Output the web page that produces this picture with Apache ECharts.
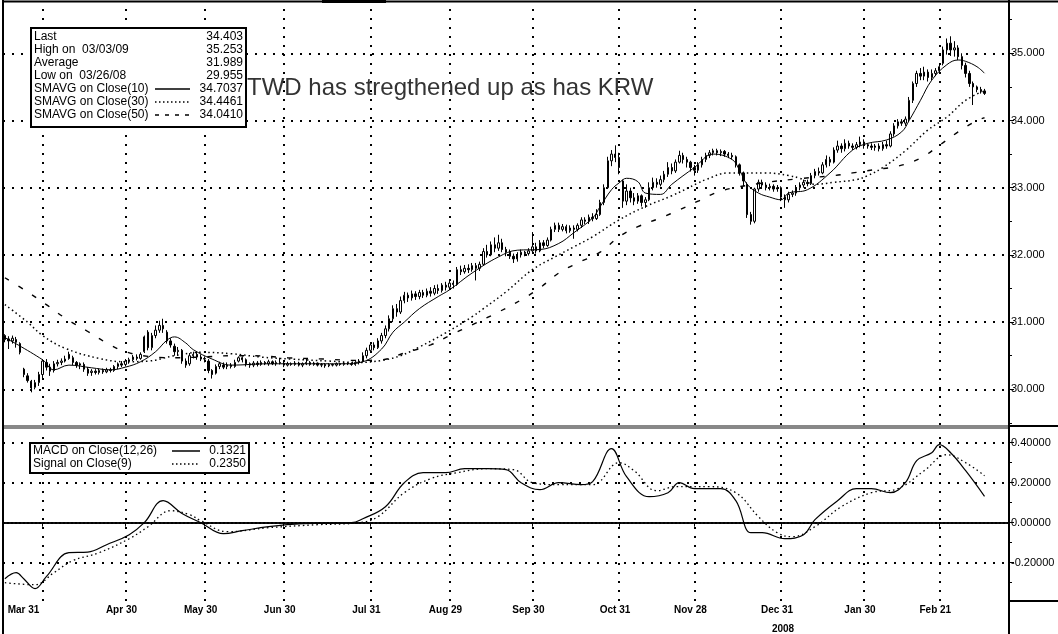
<!DOCTYPE html>
<html>
<head>
<meta charset="utf-8">
<script src="https://cdn.jsdelivr.net/npm/echarts@6/dist/echarts.min.js"></script>
<style>
  html, body { margin: 0; padding: 0; background: #fff; }
  #chart { width: 1058px; height: 634px; }
</style>
</head>
<body>
<div id="chart"></div>
<script>
// trading days shown on the x axis (weekdays, one market holiday left out)
const firstDay = '2008-03-17'
const dayCount = 267
const holidays = ['2008-05-26']

const tickDates = ['2008-03-31', '2008-04-30', '2008-05-30', '2008-06-30', '2008-07-31', '2008-08-29',
  '2008-09-30', '2008-10-31', '2008-11-28', '2008-12-31', '2009-01-30', '2009-02-27']
// label text as printed on the original chart
const tickLabels = ['Mar 31', 'Apr 30', 'May 30', 'Jun 30', 'Jul 31', 'Aug 29',
  'Sep 30', 'Oct 31', 'Nov 28', 'Dec 31', 'Jan 30', 'Feb 21']

const priceTicks = [30, 31, 32, 33, 34, 35]
const priceMinorTicks = [29.5, 30.5, 31.5, 32.5, 33.5, 34.5, 35.5]
const macdTicks = [-0.2, 0, 0.2, 0.4]
const macdMinorTicks = [-0.3, -0.1, 0.1, 0.3]

const statRows = [
  ['Last', '34.403'],
  ['High on  03/03/09', '35.253'],
  ['Average', '31.989'],
  ['Low on  03/26/08', '29.955'],
  ['SMAVG on Close(10)', '34.7037'],
  ['SMAVG on Close(30)', '34.4461'],
  ['SMAVG on Close(50)', '34.0410']
]
const macdRows = [
  ['MACD on Close(12,26)', '0.1321'],
  ['Signal on Close(9)', '0.2350']
]

// daily bars: [open, close, low, high]
const bars = [
  [30.80, 30.74, 30.70, 30.82], [30.75, 30.72, 30.60, 30.79], [30.72, 30.76, 30.68, 30.80], [30.74, 30.70, 30.62, 30.78],
  [30.68, 30.55, 30.52, 30.70], [30.30, 30.22, 30.18, 30.32], [30.20, 30.13, 30.10, 30.24], [30.12, 30.02, 29.955, 30.14],
  [30.03, 30.10, 30.00, 30.14], [30.10, 30.22, 30.05, 30.26], [30.22, 30.42, 30.15, 30.45], [30.40, 30.33, 30.28, 30.45],
  [30.33, 30.27, 30.20, 30.38], [30.28, 30.38, 30.25, 30.42], [30.38, 30.40, 30.34, 30.44], [30.40, 30.42, 30.36, 30.46],
  [30.42, 30.45, 30.40, 30.50], [30.52, 30.46, 30.44, 30.56], [30.47, 30.40, 30.36, 30.50], [30.40, 30.36, 30.32, 30.42],
  [30.36, 30.38, 30.30, 30.40], [30.37, 30.30, 30.26, 30.40], [30.30, 30.24, 30.20, 30.33], [30.25, 30.27, 30.20, 30.30],
  [30.27, 30.25, 30.22, 30.30], [30.25, 30.28, 30.22, 30.31], [30.28, 30.26, 30.23, 30.31], [30.26, 30.29, 30.24, 30.32],
  [30.29, 30.28, 30.25, 30.32], [30.28, 30.34, 30.26, 30.36], [30.34, 30.38, 30.30, 30.40], [30.38, 30.36, 30.33, 30.42],
  [30.37, 30.42, 30.34, 30.45], [30.42, 30.44, 30.38, 30.47], [30.44, 30.48, 30.42, 30.51], [30.48, 30.46, 30.43, 30.52],
  [30.46, 30.52, 30.44, 30.55], [30.56, 30.78, 30.54, 30.80], [30.85, 30.62, 30.58, 30.88], [30.62, 30.80, 30.58, 30.84],
  [30.80, 30.88, 30.76, 30.95], [30.88, 30.95, 30.84, 31.02], [30.95, 30.90, 30.84, 31.05], [30.85, 30.72, 30.68, 30.88],
  [30.72, 30.66, 30.62, 30.76], [30.64, 30.56, 30.50, 30.68], [30.56, 30.58, 30.50, 30.63], [30.58, 30.42, 30.38, 30.60],
  [30.42, 30.36, 30.32, 30.46], [30.38, 30.50, 30.35, 30.54], [30.50, 30.52, 30.46, 30.56], [30.52, 30.48, 30.44, 30.56],
  [30.48, 30.45, 30.42, 30.52], [30.45, 30.46, 30.40, 30.49], [30.42, 30.28, 30.24, 30.45], [30.28, 30.22, 30.16, 30.30],
  [30.24, 30.34, 30.22, 30.37], [30.34, 30.38, 30.30, 30.41], [30.36, 30.33, 30.30, 30.40], [30.34, 30.36, 30.30, 30.40],
  [30.36, 30.34, 30.31, 30.39], [30.34, 30.40, 30.32, 30.44], [30.42, 30.47, 30.40, 30.49], [30.47, 30.44, 30.40, 30.49],
  [30.44, 30.38, 30.34, 30.46], [30.38, 30.36, 30.32, 30.40], [30.36, 30.39, 30.33, 30.42], [30.39, 30.37, 30.34, 30.42],
  [30.37, 30.40, 30.35, 30.43], [30.40, 30.38, 30.36, 30.42], [30.38, 30.41, 30.35, 30.44], [30.41, 30.38, 30.36, 30.43],
  [30.38, 30.40, 30.35, 30.43], [30.40, 30.39, 30.37, 30.47], [30.39, 30.36, 30.33, 30.42], [30.36, 30.38, 30.34, 30.41],
  [30.38, 30.37, 30.35, 30.40], [30.37, 30.39, 30.35, 30.42], [30.39, 30.36, 30.34, 30.41], [30.36, 30.38, 30.33, 30.40],
  [30.38, 30.40, 30.36, 30.46], [30.40, 30.37, 30.35, 30.42], [30.37, 30.39, 30.35, 30.41], [30.39, 30.36, 30.34, 30.40],
  [30.36, 30.37, 30.33, 30.39], [30.37, 30.35, 30.32, 30.39], [30.35, 30.37, 30.33, 30.39], [30.37, 30.36, 30.34, 30.38],
  [30.36, 30.38, 30.34, 30.40], [30.38, 30.37, 30.35, 30.39], [30.37, 30.39, 30.35, 30.41], [30.39, 30.38, 30.36, 30.40],
  [30.38, 30.37, 30.35, 30.40], [30.37, 30.40, 30.35, 30.42], [30.40, 30.42, 30.37, 30.45], [30.42, 30.50, 30.40, 30.55],
  [30.50, 30.58, 30.46, 30.62], [30.58, 30.66, 30.55, 30.70], [30.66, 30.62, 30.58, 30.70], [30.62, 30.72, 30.60, 30.76],
  [30.72, 30.80, 30.68, 30.84], [30.80, 30.90, 30.76, 30.95], [30.90, 31.05, 30.86, 31.10], [31.05, 31.20, 31.00, 31.25],
  [31.20, 31.15, 31.08, 31.27], [31.15, 31.32, 31.12, 31.38], [31.32, 31.40, 31.28, 31.45], [31.40, 31.36, 31.30, 31.44],
  [31.36, 31.42, 31.32, 31.47], [31.42, 31.38, 31.33, 31.46], [31.38, 31.44, 31.34, 31.48], [31.44, 31.40, 31.36, 31.48],
  [31.40, 31.46, 31.37, 31.50], [31.46, 31.43, 31.38, 31.52], [31.43, 31.50, 31.40, 31.55], [31.50, 31.47, 31.42, 31.56],
  [31.47, 31.55, 31.44, 31.58], [31.55, 31.52, 31.47, 31.60], [31.52, 31.58, 31.48, 31.62], [31.58, 31.56, 31.50, 31.62],
  [31.56, 31.78, 31.54, 31.82], [31.78, 31.75, 31.70, 31.84], [31.75, 31.80, 31.72, 31.85], [31.80, 31.78, 31.73, 31.86],
  [31.78, 31.84, 31.75, 31.88], [31.84, 31.80, 31.62, 31.88], [31.80, 31.86, 31.76, 31.90], [31.86, 32.05, 31.84, 32.10],
  [32.05, 32.00, 31.96, 32.15], [32.00, 32.15, 31.98, 32.20], [32.15, 32.10, 32.04, 32.26], [32.10, 32.18, 32.06, 32.30],
  [32.18, 32.08, 32.04, 32.24], [32.08, 32.04, 31.98, 32.12], [32.04, 31.98, 31.94, 32.08], [31.98, 31.94, 31.88, 32.02],
  [31.94, 32.00, 31.90, 32.04], [32.00, 32.04, 31.96, 32.08], [32.04, 32.02, 31.98, 32.06], [32.02, 32.06, 31.99, 32.10],
  [32.06, 32.12, 32.02, 32.34], [32.12, 32.06, 32.02, 32.18], [32.06, 32.18, 32.04, 32.22], [32.18, 32.14, 32.10, 32.22],
  [32.14, 32.22, 32.12, 32.26], [32.22, 32.38, 32.20, 32.42], [32.38, 32.44, 32.34, 32.48], [32.44, 32.38, 32.34, 32.48],
  [32.38, 32.42, 32.35, 32.46], [32.42, 32.36, 32.32, 32.45], [32.36, 32.40, 32.33, 32.44], [32.40, 32.38, 32.24, 32.44],
  [32.38, 32.44, 32.35, 32.47], [32.44, 32.52, 32.40, 32.56], [32.52, 32.50, 32.46, 32.56], [32.50, 32.56, 32.46, 32.60],
  [32.56, 32.54, 32.50, 32.62], [32.54, 32.60, 32.52, 32.68], [32.60, 32.78, 32.58, 32.82], [32.78, 33.00, 32.74, 33.05],
  [33.00, 33.40, 32.98, 33.46], [33.40, 33.50, 33.32, 33.56], [33.50, 33.45, 33.38, 33.63], [33.45, 33.30, 33.20, 33.52],
  [33.10, 32.80, 32.70, 33.12], [32.80, 32.95, 32.74, 33.05], [32.95, 32.85, 32.78, 33.00], [32.85, 32.80, 32.74, 32.92],
  [32.80, 32.88, 32.76, 32.92], [32.88, 32.78, 32.72, 32.90], [32.78, 32.82, 32.70, 32.86], [32.82, 33.00, 32.80, 33.08],
  [33.00, 33.08, 32.96, 33.15], [33.08, 33.05, 33.00, 33.14], [33.05, 33.12, 33.02, 33.18], [33.12, 33.20, 33.08, 33.25],
  [33.20, 33.30, 33.16, 33.38], [33.30, 33.25, 33.20, 33.36], [33.25, 33.38, 33.22, 33.42], [33.38, 33.48, 33.36, 33.55],
  [33.48, 33.42, 33.36, 33.52], [33.42, 33.38, 33.30, 33.46], [33.38, 33.30, 33.24, 33.40], [33.30, 33.26, 33.18, 33.34],
  [33.26, 33.34, 33.22, 33.38], [33.34, 33.42, 33.30, 33.46], [33.42, 33.48, 33.38, 33.52], [33.48, 33.52, 33.44, 33.56],
  [33.52, 33.55, 33.48, 33.58], [33.55, 33.52, 33.48, 33.58], [33.52, 33.54, 33.47, 33.57], [33.54, 33.50, 33.46, 33.56],
  [33.50, 33.48, 33.44, 33.53], [33.48, 33.46, 33.42, 33.52], [33.46, 33.34, 33.30, 33.48], [33.34, 33.22, 33.18, 33.36],
  [33.22, 33.10, 33.02, 33.24], [33.05, 32.60, 32.55, 33.08], [32.60, 32.50, 32.45, 32.64], [32.50, 32.98, 32.47, 33.00],
  [32.98, 33.08, 32.94, 33.12], [33.08, 33.04, 32.98, 33.12], [33.04, 33.00, 32.96, 33.08], [33.00, 33.02, 32.96, 33.06],
  [33.02, 32.98, 32.94, 33.05], [32.98, 33.00, 32.94, 33.04], [33.00, 32.86, 32.80, 33.02], [32.86, 32.82, 32.70, 32.90],
  [32.82, 32.90, 32.78, 32.94], [32.90, 32.92, 32.86, 32.96], [32.92, 33.00, 32.88, 33.04], [33.00, 33.04, 32.96, 33.08],
  [33.04, 33.08, 33.00, 33.12], [33.08, 33.06, 33.02, 33.12], [33.06, 33.18, 33.04, 33.22], [33.18, 33.24, 33.14, 33.28],
  [33.24, 33.22, 33.18, 33.30], [33.22, 33.34, 33.20, 33.38], [33.34, 33.42, 33.30, 33.48], [33.42, 33.38, 33.32, 33.46],
  [33.38, 33.56, 33.36, 33.60], [33.56, 33.62, 33.52, 33.70], [33.62, 33.58, 33.52, 33.66], [33.58, 33.66, 33.54, 33.72],
  [33.66, 33.62, 33.58, 33.70], [33.62, 33.60, 33.56, 33.66], [33.60, 33.64, 33.57, 33.68], [33.64, 33.68, 33.60, 33.76],
  [33.68, 33.64, 33.58, 33.72], [33.64, 33.62, 33.58, 33.66], [33.62, 33.60, 33.56, 33.66], [33.60, 33.62, 33.55, 33.65],
  [33.62, 33.58, 33.54, 33.66], [33.58, 33.64, 33.55, 33.68], [33.64, 33.62, 33.58, 33.70], [33.62, 33.80, 33.60, 33.84],
  [33.80, 33.92, 33.76, 33.96], [33.92, 33.98, 33.88, 34.02], [33.98, 33.96, 33.92, 34.02], [33.96, 34.02, 33.92, 34.06],
  [34.02, 34.30, 33.98, 34.35], [34.30, 34.55, 34.26, 34.58], [34.55, 34.70, 34.50, 34.74], [34.70, 34.66, 34.60, 34.78],
  [34.66, 34.72, 34.60, 34.80], [34.72, 34.64, 34.58, 34.76], [34.64, 34.70, 34.60, 34.76], [34.70, 34.74, 34.66, 34.78],
  [34.74, 34.80, 34.70, 34.85], [34.85, 35.05, 34.82, 35.10], [35.05, 35.15, 34.98, 35.22], [35.15, 35.05, 34.96, 35.253],
  [35.05, 35.08, 34.95, 35.18], [35.08, 34.95, 34.90, 35.12], [34.95, 34.82, 34.76, 35.00], [34.82, 34.70, 34.64, 34.86],
  [34.70, 34.55, 34.50, 34.74], [34.55, 34.50, 34.23, 34.58], [34.50, 34.46, 34.42, 34.52], [34.46, 34.44, 34.40, 34.50],
  [34.44, 34.403, 34.38, 34.47]
]

// moving averages and MACD: [day index, value]
const ma10 = [[0, 30.77], [10, 30.44], [13, 30.29], [17, 30.36], [23, 30.32], [28, 30.29], [32, 30.33], [36, 30.41],
  [40, 30.56], [43, 30.73], [45, 30.78], [48, 30.69], [50, 30.59], [55, 30.45], [60, 30.36], [70, 30.38], [80, 30.38],
  [90, 30.38], [95, 30.41], [100, 30.6], [103, 30.85], [106, 31.0], [110, 31.2], [115, 31.38], [118, 31.48],
  [124, 31.73], [131, 31.97], [136, 32.07], [142, 32.08], [147, 32.17], [151, 32.33], [156, 32.55], [158, 32.72],
  [161, 32.97], [163, 33.07], [165, 33.14], [168, 33.09], [170, 32.92], [174, 32.9], [177, 33.05], [183, 33.3],
  [188, 33.5], [193, 33.42], [195, 33.26], [197, 33.05], [200, 32.92], [203, 32.86], [206, 32.82], [208, 32.92],
  [213, 32.97], [219, 33.22], [225, 33.56], [229, 33.66], [234, 33.71], [238, 33.83], [240, 34.0], [243, 34.3],
  [246, 34.6], [250, 34.83], [253, 34.9], [255, 34.88], [258, 34.8], [260, 34.7037]]
const ma30 = [[0, 31.26], [6, 31.0], [10, 30.8], [16, 30.61], [25, 30.46], [32, 30.41], [38, 30.42], [45, 30.5],
  [52, 30.55], [60, 30.53], [68, 30.48], [76, 30.45], [86, 30.42], [94, 30.4], [100, 30.43], [105, 30.5],
  [110, 30.63], [117, 30.84], [124, 31.08], [127, 31.2], [133, 31.45], [140, 31.78], [146, 31.97], [151, 32.12],
  [156, 32.27], [163, 32.52], [170, 32.72], [177, 32.88], [184, 33.07], [186, 33.12], [192, 33.22], [202, 33.22],
  [208, 33.18], [211, 33.14], [215, 33.05], [220, 33.08], [226, 33.12], [229, 33.18], [233, 33.3], [239, 33.55],
  [245, 33.86], [250, 34.05], [255, 34.3], [260, 34.4461]]
const ma50 = [[0, 31.66], [6, 31.45], [11, 31.26], [16, 31.06], [22, 30.86], [27, 30.69], [32, 30.56], [38, 30.49],
  [45, 30.47], [52, 30.48], [60, 30.5], [66, 30.5], [75, 30.47], [85, 30.45], [93, 30.43], [100, 30.44],
  [106, 30.54], [113, 30.66], [118, 30.8], [124, 30.96], [131, 31.15], [137, 31.33], [142, 31.51], [147, 31.73],
  [152, 31.88], [158, 32.04], [163, 32.27], [168, 32.42], [174, 32.55], [179, 32.67], [184, 32.8], [190, 32.95],
  [200, 33.06], [210, 33.13], [220, 33.18], [225, 33.22], [231, 33.27], [237, 33.32], [243, 33.44], [248, 33.63],
  [253, 33.83], [258, 34.0], [260, 34.041]]
const macd = [[0, -0.28], [3, -0.25], [5, -0.28], [8, -0.33], [11, -0.27], [17, -0.15], [22, -0.147], [27, -0.11],
  [33, -0.06], [37, 0.0], [42, 0.11], [47, 0.046], [52, 0.0], [58, -0.055], [63, -0.04], [70, -0.02], [79, -0.005],
  [92, 0.0], [95, 0.02], [101, 0.08], [106, 0.2], [111, 0.25], [117, 0.25], [122, 0.27], [128, 0.27], [133, 0.265],
  [137, 0.2], [142, 0.165], [147, 0.2], [153, 0.19], [156, 0.205], [161, 0.37], [165, 0.23], [171, 0.13],
  [176, 0.15], [179, 0.2], [183, 0.17], [190, 0.17], [194, 0.11], [198, -0.05], [201, -0.05], [207, -0.08],
  [212, -0.06], [215, 0.015], [221, 0.11], [226, 0.17], [230, 0.17], [235, 0.15], [239, 0.2], [242, 0.31],
  [246, 0.35], [248, 0.39], [251, 0.35], [255, 0.26], [260, 0.1321]]
const signal = [[0, -0.3], [8, -0.31], [13, -0.25], [18, -0.19], [25, -0.15], [33, -0.08], [38, -0.02], [44, 0.06],
  [49, 0.04], [52, 0.01], [59, -0.045], [70, -0.025], [83, -0.01], [94, 0.0], [99, 0.03], [106, 0.15], [113, 0.22],
  [120, 0.25], [128, 0.27], [135, 0.265], [140, 0.2], [147, 0.19], [156, 0.19], [163, 0.3], [167, 0.26],
  [173, 0.16], [178, 0.18], [187, 0.18], [194, 0.15], [200, 0.03], [205, -0.05], [209, -0.07], [215, -0.02],
  [222, 0.08], [230, 0.15], [237, 0.17], [244, 0.26], [250, 0.34], [255, 0.3], [260, 0.235]]

const dates = []
for (let d = new Date(firstDay + 'T00:00:00Z'); dates.length < dayCount; d.setUTCDate(d.getUTCDate() + 1)) {
  const wd = d.getUTCDay()
  const s = d.toISOString().slice(0, 10)
  if (wd !== 0 && wd !== 6 && !holidays.includes(s)) dates.push(s)
}

const sans = "'Liberation Sans', Arial, sans-serif"
const isTick = (idx, value) => tickDates.includes(value)
const gridDots = { color: '#000', type: [2, 7], width: 2 }

const vLines = tickDates.map((d) => ({ xAxis: d }))
const hLines = priceTicks.map((v) => ({ yAxis: v }))
const macdLines = macdTicks.filter((v) => v !== 0).map((v) => ({ yAxis: v }))

const chart = echarts.init(document.getElementById('chart'))

// legend boxes and decorations
const graphics = []
graphics.push({ type: 'rect', z: 50, shape: { x: 31, y: 28, width: 215, height: 99 },
  style: { fill: '#fff', stroke: '#000', lineWidth: 2 } })
statRows.forEach((r, k) => {
  const y = 37 + k * 13
  graphics.push({ type: 'text', z: 51, x: 34, y: y,
    style: { text: r[0], font: '12px ' + sans, fill: '#000', verticalAlign: 'middle' } })
  graphics.push({ type: 'text', z: 51, x: 243, y: y,
    style: { text: r[1], font: '12px ' + sans, fill: '#000', align: 'right', verticalAlign: 'middle' } })
})
const sampleDash = ['solid', [1.5, 2.5], [4, 6]]
sampleDash.forEach((t, k) => {
  graphics.push({ type: 'line', z: 51, shape: { x1: 155, y1: 89 + k * 13, x2: 190, y2: 89 + k * 13 },
    style: { stroke: '#000', lineWidth: k === 0 ? 1.5 : 1.3, lineDash: t === 'solid' ? null : t } })
})
graphics.push({ type: 'rect', z: 50, shape: { x: 30, y: 443, width: 219, height: 30 },
  style: { fill: '#fff', stroke: '#000', lineWidth: 2 } })
macdRows.forEach((r, k) => {
  const y = 451 + k * 13
  graphics.push({ type: 'text', z: 51, x: 33, y: y,
    style: { text: r[0], font: '12px ' + sans, fill: '#000', verticalAlign: 'middle' } })
  graphics.push({ type: 'text', z: 51, x: 246, y: y,
    style: { text: r[1], font: '12px ' + sans, fill: '#000', align: 'right', verticalAlign: 'middle' } })
  graphics.push({ type: 'line', z: 51, shape: { x1: 172, y1: y, x2: 200, y2: y },
    style: { stroke: '#000', lineWidth: k === 0 ? 1.5 : 1.3, lineDash: k === 0 ? null : [1.5, 2.5] } })
})
graphics.push({ type: 'text', z: 40, x: 247, y: 88,
  style: { text: 'TWD has stregthened up as has KRW', font: '24px ' + sans, fill: '#333', verticalAlign: 'middle' } })
// frame pieces
graphics.push({ type: 'rect', z: 30, shape: { x: 3, y: 425, width: 1006, height: 4 }, style: { fill: '#888' } })
graphics.push({ type: 'rect', z: 30, shape: { x: 322, y: 0, width: 64, height: 3 }, style: { fill: '#000' } })
graphics.push({ type: 'line', z: 30, shape: { x1: 3, y1: 1.5, x2: 1058, y2: 1.5 }, style: { stroke: '#000', lineWidth: 2 } })
graphics.push({ type: 'line', z: 30, shape: { x1: 3, y1: 0, x2: 3, y2: 634 }, style: { stroke: '#000', lineWidth: 2 } })
graphics.push({ type: 'line', z: 30, shape: { x1: 1009, y1: 0, x2: 1009, y2: 634 }, style: { stroke: '#000', lineWidth: 2 } })
graphics.push({ type: 'line', z: 30, shape: { x1: 1009, y1: 426, x2: 1058, y2: 426 }, style: { stroke: '#000', lineWidth: 2 } })
graphics.push({ type: 'line', z: 30, shape: { x1: 1009, y1: 601, x2: 1058, y2: 601 }, style: { stroke: '#000', lineWidth: 2 } })
graphics.push({ type: 'text', z: 30, x: 783, y: 629,
  style: { text: '2008', font: 'bold 10px ' + sans, fill: '#000', align: 'center', verticalAlign: 'middle' } })

chart.setOption({
  animation: false,
  backgroundColor: '#fff',
  grid: [
    { left: 3, top: 2, width: 1006, height: 423 },
    { left: 3, top: 430, width: 1006, height: 171 }
  ],
  xAxis: [
    {
      type: 'category', gridIndex: 0, data: dates, boundaryGap: true,
      axisLine: { show: false }, axisTick: { show: false }, axisLabel: { show: false }, splitLine: { show: false }
    },
    {
      type: 'category', gridIndex: 1, data: dates, boundaryGap: true,
      axisLine: { show: true, lineStyle: { color: '#000', width: 2, type: [2, 2] } },
      axisTick: { show: true, alignWithLabel: true, interval: isTick, length: 4, lineStyle: { color: '#000' } },
      axisLabel: {
        interval: isTick, margin: 4, color: '#000', fontSize: 10, fontWeight: 'bold', fontFamily: sans,
        padding: [0, 8, 0, 0],
        // the first month label sits well left of its tick in the original
        formatter: (v) => (v === tickDates[0] ? '{first|' : '{d|') + tickLabels[tickDates.indexOf(v)] + '}',
        rich: {
          first: { fontSize: 10, fontWeight: 'bold', fontFamily: sans, color: '#000', padding: [0, 30, 0, 0] },
          d: { fontSize: 10, fontWeight: 'bold', fontFamily: sans, color: '#000' }
        }
      },
      splitLine: { show: false }
    }
  ],
  yAxis: [
    {
      type: 'value', gridIndex: 0, position: 'right', min: 29.469, max: 35.763,
      axisLine: { show: true, lineStyle: { color: '#000', width: 2 } },
      axisTick: { show: true, customValues: priceTicks, length: 5, lineStyle: { color: '#000' } },
      axisLabel: { customValues: priceTicks, margin: 2, color: '#000', fontSize: 11, fontFamily: sans,
        formatter: (v) => v.toFixed(3) },
      splitLine: { show: false }
    },
    {
      type: 'value', gridIndex: 0, position: 'right', min: 29.469, max: 35.763,
      axisLine: { show: false }, axisLabel: { show: false }, splitLine: { show: false },
      axisTick: { show: true, customValues: priceMinorTicks, length: 3, lineStyle: { color: '#000' } }
    },
    {
      type: 'value', gridIndex: 1, position: 'right', min: -0.3915, max: 0.4635,
      axisLine: { show: true, lineStyle: { color: '#000', width: 2 } },
      axisTick: { show: true, customValues: macdTicks, length: 5, lineStyle: { color: '#000' } },
      axisLabel: { customValues: macdTicks, margin: 2, color: '#000', fontSize: 11, fontFamily: sans,
        formatter: (v) => v.toFixed(5) },
      splitLine: { show: false }
    },
    {
      type: 'value', gridIndex: 1, position: 'right', min: -0.3915, max: 0.4635,
      axisLine: { show: false }, axisLabel: { show: false }, splitLine: { show: false },
      axisTick: { show: true, customValues: macdMinorTicks, length: 3, lineStyle: { color: '#000' } }
    }
  ],
  series: [
    {
      name: 'TWD', type: 'candlestick', xAxisIndex: 0, yAxisIndex: 0, data: bars, barMaxWidth: 3,
      itemStyle: { color: '#fff', color0: '#000', borderColor: '#000', borderColor0: '#000', borderWidth: 1 },
      z: 5
    },
    {
      name: 'SMAVG 10', type: 'line', xAxisIndex: 0, yAxisIndex: 0, data: ma10, smooth: 0.4, symbol: 'none',
      lineStyle: { color: '#000', width: 1 }, z: 6
    },
    {
      name: 'SMAVG 30', type: 'line', xAxisIndex: 0, yAxisIndex: 0, data: ma30, smooth: 0.4, symbol: 'none',
      lineStyle: { color: '#000', width: 1.5, type: [1.5, 3] }, z: 6
    },
    {
      name: 'SMAVG 50', type: 'line', xAxisIndex: 0, yAxisIndex: 0, data: ma50, smooth: 0.4, symbol: 'none',
      lineStyle: { color: '#000', width: 1.4, type: [5, 11] }, z: 6,
      markLine: {
        silent: true, symbol: ['none', 'none'], label: { show: false }, lineStyle: gridDots, z: 1,
        data: hLines.concat(vLines)
      }
    },
    {
      name: 'MACD', type: 'line', xAxisIndex: 1, yAxisIndex: 2, data: macd, smooth: 0.4, symbol: 'none',
      lineStyle: { color: '#000', width: 1.2 }, z: 6,
      markLine: {
        silent: true, symbol: ['none', 'none'], label: { show: false }, lineStyle: gridDots, z: 1,
        data: macdLines.concat(vLines).concat([{ yAxis: 0, lineStyle: { type: 'solid', width: 1.5, color: '#000' } }])
      }
    },
    {
      name: 'Signal', type: 'line', xAxisIndex: 1, yAxisIndex: 2, data: signal, smooth: 0.4, symbol: 'none',
      lineStyle: { color: '#000', width: 1.3, type: [1.5, 3] }, z: 6
    }
  ],
  graphic: graphics
})
</script>
</body>
</html>
